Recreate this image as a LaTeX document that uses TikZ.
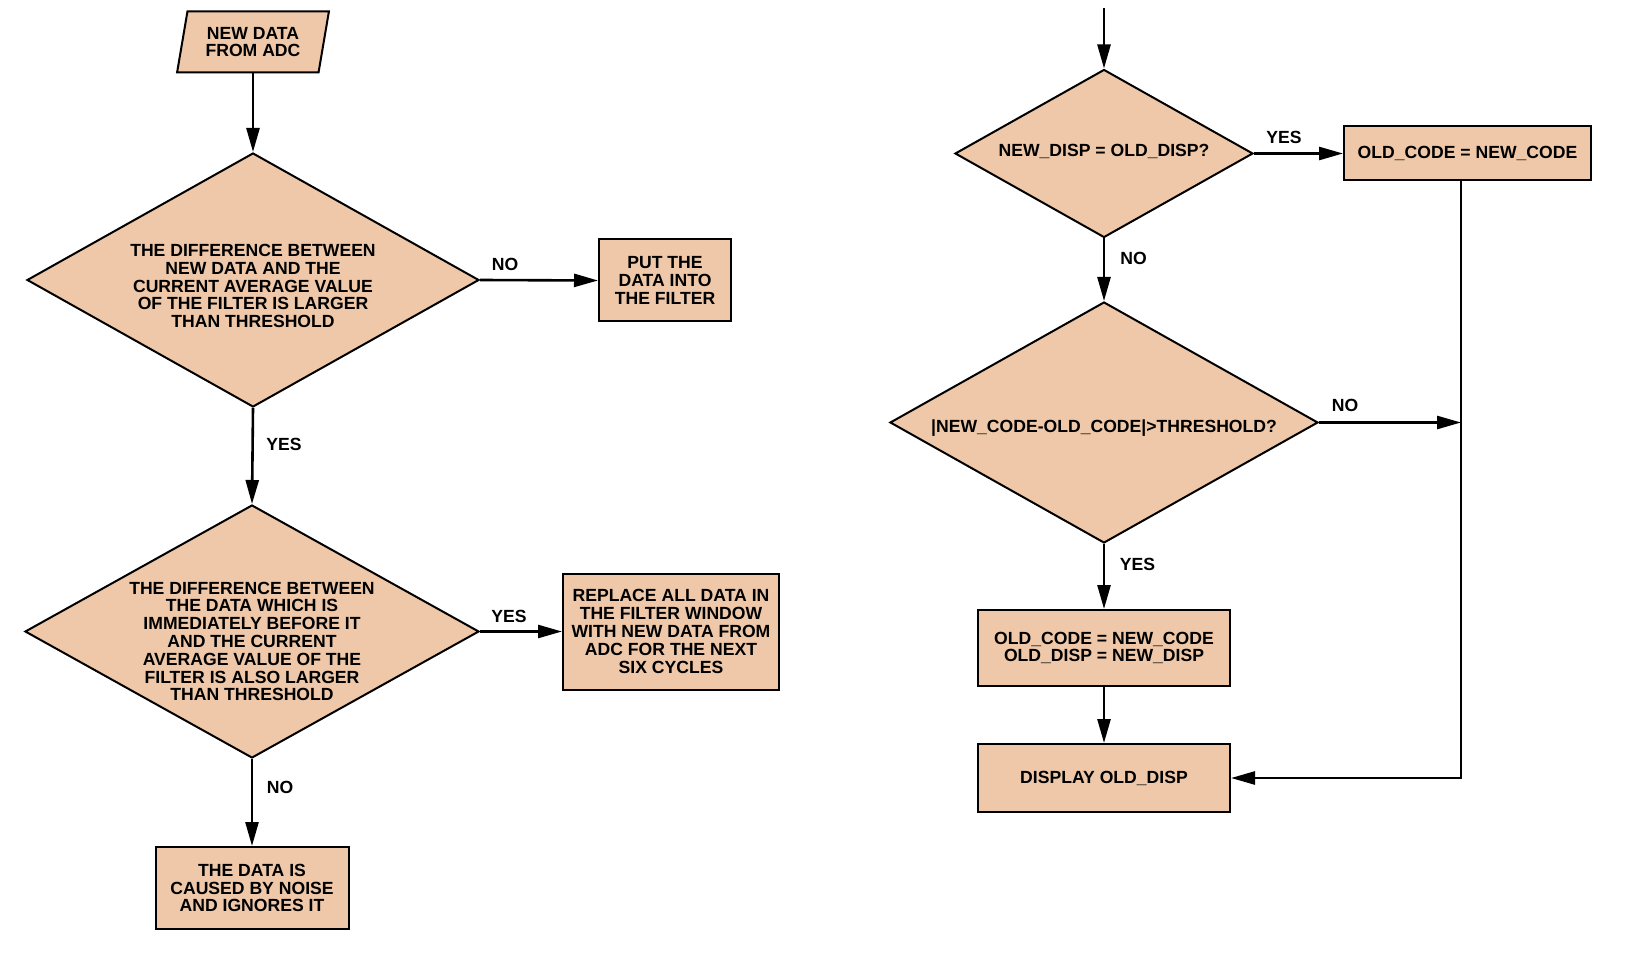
\documentclass[tikz,border=0pt]{standalone}
\usepackage{fontspec}
\setmainfont{Liberation Sans}
\usetikzlibrary{shapes.geometric,arrows.meta}
\definecolor{peach}{RGB}{238,200,168}
\newcommand{\fcfont}{\fontsize{8.8}{8.9}\selectfont\bfseries}
\tikzset{
  base/.style={draw=black, line width=1pt, fill=peach, font=\fcfont, align=center, inner sep=0pt},
  boxnode/.style={base, rectangle},
  dec/.style={base, diamond},
  conn/.style={line width=1.3pt, -{Triangle[length=12pt,width=6.5pt]}},
  lab/.style={font=\fcfont, inner sep=0pt},
  dectext/.style={font=\fcfont, align=center, inner sep=0pt}
}
\begin{document}
\begin{tikzpicture}[x=0.5pt,y=-0.5pt]
\useasboundingbox (0,0) rectangle (1626,956);
% left column
\node[base, trapezium, trapezium left angle=76, trapezium right angle=104, trapezium stretches=true, minimum width=76pt, minimum height=30.5pt] (start) at (253,42) {NEW DATA\\FROM ADC};
\node[dec, aspect=1.78, minimum width=226pt, minimum height=127pt] (d1) at (253,280) {};
\node[dectext] (d1t) at (253,286) {THE DIFFERENCE BETWEEN\\NEW DATA AND THE\\CURRENT AVERAGE VALUE\\OF THE FILTER IS LARGER\\THAN THRESHOLD};
\node[boxnode, minimum width=66pt, minimum height=41pt] (put) at (665,280.5) {PUT THE\\DATA INTO\\THE FILTER};
\node[dec, aspect=1.79, minimum width=227pt, minimum height=126.5pt] (d2) at (252,631.5) {};
\node[dectext] (d2t) at (252,641.5) {THE DIFFERENCE BETWEEN\\THE DATA WHICH IS\\IMMEDIATELY BEFORE IT\\AND THE CURRENT\\AVERAGE VALUE OF THE\\FILTER IS ALSO LARGER\\THAN THRESHOLD};
\node[boxnode, minimum width=108pt, minimum height=58pt] (repl) at (671,631.5) {REPLACE ALL DATA IN\\THE FILTER WINDOW\\WITH NEW DATA FROM\\ADC FOR THE NEXT\\SIX CYCLES};
\node[boxnode, minimum width=96.5pt, minimum height=41pt] (noise) at (252,888) {THE DATA IS\\CAUSED BY NOISE\\AND IGNORES IT};
\draw[conn] (start.south -| d1.north) -- (d1.north);
\draw[conn] (d1.east) -- (put.west);
\draw[conn] (d1.south) -- (d2.north);
\draw[conn] (d2.east) -- (repl.west);
\draw[conn] (d2.south) -- (noise.north);
\node[lab] (l1) at (505,264) {NO};
\node[lab] (l2) at (284,444) {YES};
\node[lab] (l3) at (509,616) {YES};
\node[lab] (l4) at (280,787) {NO};
% right column
\coordinate (top) at (1104,8);
\node[dec, aspect=1.77, minimum width=149pt, minimum height=84pt] (d3) at (1104,153.5) {};
\node[dectext] (d3t) at (1104,151) {NEW\_DISP = OLD\_DISP?};
\node[boxnode, minimum width=123.5pt, minimum height=27pt] (oc) at (1467.5,153.5) {OLD\_CODE = NEW\_CODE};
\node[dec, aspect=1.78, minimum width=214pt, minimum height=120.5pt] (d4) at (1104,422.5) {};
\node[dectext] (d4t) at (1104,428) {|NEW\_CODE-OLD\_CODE|>THRESHOLD?};
\node[boxnode, minimum width=126pt, minimum height=38pt] (upd) at (1104,648) {OLD\_CODE = NEW\_CODE\\OLD\_DISP = NEW\_DISP};
\node[boxnode, minimum width=126pt, minimum height=34pt] (disp) at (1104,778) {DISPLAY OLD\_DISP};
\coordinate (j1) at (1461,422.5);
\draw[conn] (top) -- (d3.north);
\draw[conn] (d3.east) -- (oc.west);
\draw[conn] (d3.south) -- (d4.north);
\draw[conn] (d4.east) -- (j1);
\draw[conn] (d4.south) -- (upd.north);
\draw[conn] (upd.south) -- (disp.north);
\draw[conn] (oc.south -| j1) -- (j1 |- disp.east) -- (disp.east);
\node[lab] (l5) at (1284,137) {YES};
\node[lab] (l6) at (1133.5,258) {NO};
\node[lab] (l7) at (1345,405.5) {NO};
\node[lab] (l8) at (1137.5,564) {YES};
\end{tikzpicture}
\end{document}
